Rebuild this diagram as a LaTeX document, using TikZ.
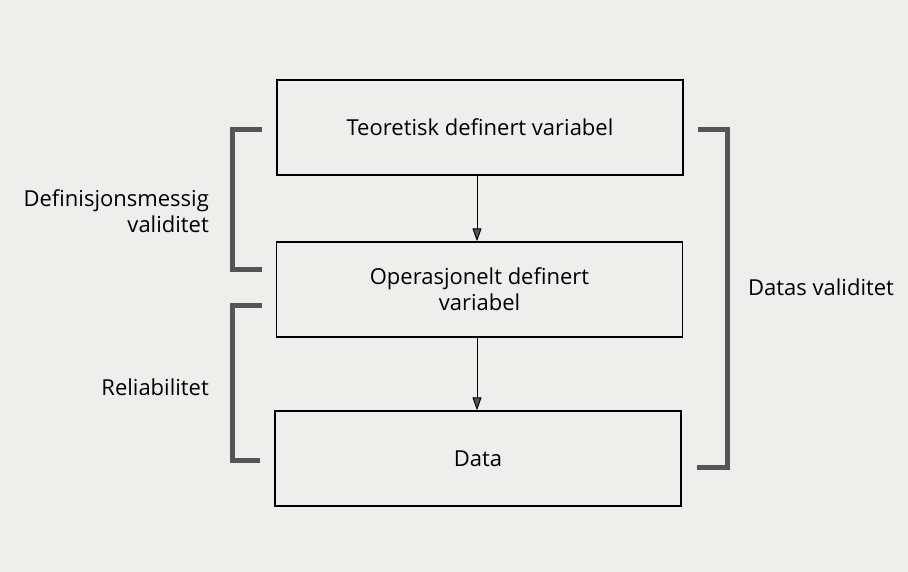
\documentclass[tikz,border=0pt]{standalone}
\usepackage{fontspec}
\setmainfont{Open Sans}
\usetikzlibrary{arrows.meta}
\definecolor{paper}{RGB}{238,238,236}
\definecolor{brk}{RGB}{85,85,85}
\begin{document}
\begin{tikzpicture}[x=1pt,y=-1pt,
  boxnode/.style={draw=black,line width=1.3pt,minimum width=406pt,minimum height=95pt,inner sep=0pt,font=\fontsize{22}{26}\selectfont,align=center},
  lbl/.style={font=\fontsize{22}{26}\selectfont,inner sep=0pt},
  flow/.style={line width=1pt,-{Triangle[length=13pt,width=9pt,fill=brk]}},
  bracket/.style={draw=brk,line width=5pt,line cap=butt,line join=miter}]
\fill[paper] (0,0) rectangle (908,572);
\useasboundingbox (0,0) rectangle (908,572);
\node[boxnode] (b1) at (480,127.5) {Teoretisk definert variabel};
\node[boxnode] (b2) at (479.5,289.5) {Operasjonelt definert\\variabel};
\node[boxnode] (b3) at (478,458.5) {Data};
\draw[flow] (b1.south -| 477,0) -- (b2.north -| 477,0);
\draw[flow] (b2.south -| 477,0) -- (b3.north -| 477,0);
\coordinate (l1a) at (262,130); \coordinate (l1b) at (262,270);
\coordinate (l2a) at (262,305); \coordinate (l2b) at (260,460);
\coordinate (r1a) at (698,130); \coordinate (r1b) at (697,467);
\draw[bracket] (l1a) -- (232,130) -- (232,270) -- (l1b);
\draw[bracket] (l2a) -- (232,305) -- (232,460) -- (l2b);
\draw[bracket] (r1a) -- (727,130) -- (727,467) -- (r1b);
\node[lbl,anchor=east,align=right] (t1) at (209,211) {Definisjonsmessig\\validitet};
\node[lbl,anchor=east] (t2) at (209,387) {Reliabilitet};
\node[lbl,anchor=west] (t3) at (748,287) {Datas validitet};
\end{tikzpicture}
\end{document}
